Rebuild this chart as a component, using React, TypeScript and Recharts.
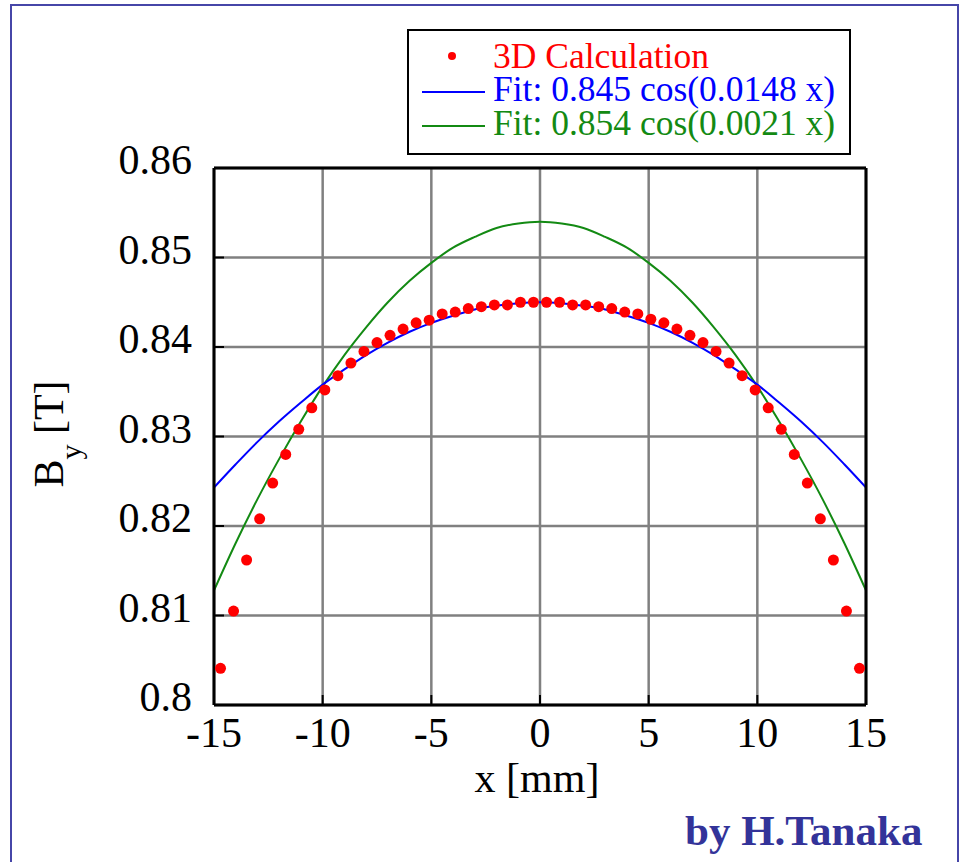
import React from "react";
import {
  ComposedChart,
  Line,
  Scatter,
  XAxis,
  YAxis,
  CartesianGrid,
  Legend,
  Label,
} from "recharts";

// 3D field calculation, sampled every 0.6 mm
const calcX = [
  -14.7, -14.1, -13.5, -12.9, -12.3, -11.7, -11.1, -10.5, -9.9, -9.3, -8.7, -8.1, -7.5,
  -6.9, -6.3, -5.7, -5.1, -4.5, -3.9, -3.3, -2.7, -2.1, -1.5, -0.9, -0.3,
  0.3, 0.9, 1.5, 2.1, 2.7, 3.3, 3.9, 4.5, 5.1, 5.7, 6.3, 6.9, 7.5,
  8.1, 8.7, 9.3, 9.9, 10.5, 11.1, 11.7, 12.3, 12.9, 13.5, 14.1, 14.7,
];
const calcBy = [
  0.8041, 0.8105, 0.8162, 0.8208, 0.8248, 0.828, 0.8308, 0.8332, 0.8352, 0.8368, 0.8382, 0.8395, 0.8405,
  0.8413, 0.842, 0.8427, 0.843, 0.8437, 0.8439, 0.8443, 0.8445, 0.8447, 0.8447, 0.845, 0.845,
  0.845, 0.845, 0.8447, 0.8447, 0.8445, 0.8443, 0.8439, 0.8437, 0.8431, 0.8427, 0.842, 0.8413, 0.8405,
  0.8395, 0.8382, 0.8368, 0.8352, 0.8332, 0.8308, 0.828, 0.8248, 0.8208, 0.8162, 0.8105, 0.8041,
];

// fitted curves, read every 1 mm
const fitX = [
  -15, -14, -13, -12, -11, -10, -9, -8, -7, -6, -5, -4, -3, -2, -1, 0,
  1, 2, 3, 4, 5, 6, 7, 8, 9, 10, 11, 12, 13, 14, 15,
];
const fitBlue = [
  0.8243, 0.8269, 0.8294, 0.8317, 0.8338, 0.8358, 0.8375, 0.8391, 0.8405, 0.8417, 0.8427, 0.8435, 0.8442, 0.8446, 0.8449, 0.845,
  0.8449, 0.8446, 0.8442, 0.8435, 0.8427, 0.8417, 0.8405, 0.8391, 0.8375, 0.8358, 0.8338, 0.8317, 0.8294, 0.8269, 0.8243,
];
const fitGreen = [
  0.8128, 0.8181, 0.823, 0.8275, 0.8317, 0.8356, 0.8391, 0.8422, 0.845, 0.8474, 0.8494, 0.8511, 0.8523, 0.8533, 0.8538, 0.854,
  0.8538, 0.8533, 0.8523, 0.8511, 0.8494, 0.8474, 0.845, 0.8422, 0.8391, 0.8356, 0.8317, 0.8275, 0.823, 0.8181, 0.8128,
];

const xMajorTicks = [-15, -10, -5, 0, 5, 10, 15];
const xMinorTicks = [
  -15, -14, -13, -12, -11, -10, -9, -8, -7, -6, -5, -4, -3, -2, -1, 0,
  1, 2, 3, 4, 5, 6, 7, 8, 9, 10, 11, 12, 13, 14, 15,
];
const yMajorTicks = [0.8, 0.81, 0.82, 0.83, 0.84, 0.85, 0.86];
const yMinorTicks = [
  0.8, 0.802, 0.804, 0.806, 0.808, 0.81, 0.812, 0.814, 0.816, 0.818, 0.82,
  0.822, 0.824, 0.826, 0.828, 0.83, 0.832, 0.834, 0.836, 0.838, 0.84,
  0.842, 0.844, 0.846, 0.848, 0.85, 0.852, 0.854, 0.856, 0.858, 0.86,
];

const legendLabels = ["3D Calculation", "Fit: 0.845 cos(0.0148 x)", "Fit: 0.854 cos(0.0021 x)"];

const calcData = calcX.map((x, i) => ({ x, y: calcBy[i] }));
const blueData = fitX.map((x, i) => ({ x, y: fitBlue[i] }));
const greenData = fitX.map((x, i) => ({ x, y: fitGreen[i] }));

const SERIF = '"Liberation Serif", "Times New Roman", serif';
const RED = "#ff0000";
const BLUE = "#0000ff";
const GREEN = "#138a13";

const frame = { stroke: "#000", strokeWidth: 3 };
const tickMark = { stroke: "#000", strokeWidth: 2 };

const XTick = (props: any) => (
  <text x={props.x} y={props.y + 42} textAnchor="middle" fontFamily={SERIF} fontSize={42} fill="#000">
    {props.payload.value}
  </text>
);

const YTick = (props: any) => (
  <text x={props.x - 22} y={props.y + 6} textAnchor="end" fontFamily={SERIF} fontSize={42} fill="#000">
    {String(Number(Number(props.payload.value).toFixed(2)))}
  </text>
);

const LegendBox = () => (
  <svg width={444} height={126} style={{ display: "block" }}>
    <rect x={1} y={1} width={442} height={124} fill="#fff" stroke="#000" strokeWidth={2} />
    <circle cx={45} cy={27} r={4} fill={RED} />
    <line x1={15} x2={78} y1={63} y2={63} stroke={BLUE} strokeWidth={2} />
    <line x1={15} x2={78} y1={97} y2={97} stroke={GREEN} strokeWidth={2} />
    <g fontFamily={SERIF} fontSize={35.5}>
      <text x={86} y={39} fill={RED}>{legendLabels[0]}</text>
      <text x={86} y={72} fill={BLUE}>{legendLabels[1]}</text>
      <text x={86} y={106} fill={GREEN}>{legendLabels[2]}</text>
    </g>
  </svg>
);

export default function App() {
  return (
    <div
      style={{
        position: "absolute",
        left: 0,
        top: 0,
        width: 960,
        height: 862,
        overflow: "hidden",
        background: "#fff",
      }}
    >
      {/* outer page border */}
      <div
        style={{
          position: "absolute",
          left: 10,
          top: 4,
          width: 949,
          height: 900,
          boxSizing: "border-box",
          border: "2px solid #4646a8",
        }}
      />
      <ComposedChart
        width={960}
        height={862}
        margin={{ top: 166, right: 92, bottom: 155, left: 212 }}
        style={{ position: "absolute", left: 0, top: 0 }}
      >
        <CartesianGrid stroke="#808080" strokeWidth={2.5} />

        {/* bottom: labels + major ticks, then minor ticks */}
        <XAxis
          type="number"
          dataKey="x"
          domain={[-15, 15]}
          allowDataOverflow
          ticks={xMajorTicks}
          height={1}
          axisLine={frame}
          tickLine={tickMark}
          tickSize={-10}
          tickMargin={10}
          tick={XTick}
        >
          <Label
            content={(p: any) => (
              <text
                x={p.viewBox.x + p.viewBox.width / 2 - 3}
                y={p.viewBox.y + 87}
                textAnchor="middle"
                fontFamily={SERIF}
                fontSize={42}
                fill="#000"
              >
                x [mm]
              </text>
            )}
          />
        </XAxis>
        <XAxis xAxisId="xMinor" type="number" dataKey="x" domain={[-15, 15]} allowDataOverflow
          ticks={xMinorTicks} height={1} axisLine={false} tickLine={tickMark} tickSize={-7} tick={false} />
        <XAxis xAxisId="top" orientation="top" type="number" dataKey="x" domain={[-15, 15]} allowDataOverflow
          ticks={xMajorTicks} height={1} axisLine={frame} tickLine={tickMark} tickSize={-10} tick={false} />
        <XAxis xAxisId="topMinor" orientation="top" type="number" dataKey="x" domain={[-15, 15]} allowDataOverflow
          ticks={xMinorTicks} height={1} axisLine={false} tickLine={tickMark} tickSize={-7} tick={false} />

        {/* left: labels + major ticks, then minor ticks; right side mirrors */}
        <YAxis
          type="number"
          dataKey="y"
          domain={[0.8, 0.86]}
          allowDataOverflow
          ticks={yMajorTicks}
          width={1}
          axisLine={frame}
          tickLine={tickMark}
          tickSize={-10}
          tickMargin={10}
          tick={YTick}
        >
          <Label
            content={(p: any) => {
              const cx = p.viewBox.x - 150;
              const cy = p.viewBox.y + 266;
              return (
                <text
                  x={cx}
                  y={cy}
                  transform={`rotate(-90 ${cx} ${cy})`}
                  textAnchor="middle"
                  fontFamily={SERIF}
                  fontSize={42}
                  fill="#000"
                >
                  B
                  <tspan fontSize={30} dy={18}>y</tspan>
                  <tspan dy={-18}> [T]</tspan>
                </text>
              );
            }}
          />
        </YAxis>
        <YAxis yAxisId="yMinor" type="number" dataKey="y" domain={[0.8, 0.86]} allowDataOverflow
          ticks={yMinorTicks} width={1} axisLine={false} tickLine={tickMark} tickSize={-7} tick={false} />
        <YAxis yAxisId="right" orientation="right" type="number" dataKey="y" domain={[0.8, 0.86]} allowDataOverflow
          ticks={yMajorTicks} width={1} axisLine={frame} tickLine={tickMark} tickSize={-10} tick={false} />
        <YAxis yAxisId="rightMinor" orientation="right" type="number" dataKey="y" domain={[0.8, 0.86]} allowDataOverflow
          ticks={yMinorTicks} width={1} axisLine={false} tickLine={tickMark} tickSize={-7} tick={false} />

        <Legend
          layout="horizontal"
          verticalAlign="middle"
          align="center"
          wrapperStyle={{ left: 407, top: 29, width: 444, height: 126 }}
          content={() => <LegendBox />}
        />

        <Line
          data={greenData}
          dataKey="y"
          type="monotone"
          stroke={GREEN}
          strokeWidth={2}
          dot={false}
          isAnimationActive={false}
        />
        <Line
          data={blueData}
          dataKey="y"
          type="monotone"
          stroke={BLUE}
          strokeWidth={2}
          dot={false}
          isAnimationActive={false}
        />
        <Scatter
          data={calcData}
          dataKey="y"
          fill={RED}
          isAnimationActive={false}
          shape={(p: any) => <circle cx={p.cx} cy={p.cy} r={5.5} fill={RED} />}
        />
      </ComposedChart>

      <svg
        width={290}
        height={60}
        style={{ position: "absolute", left: 660, top: 800 }}
      >
        <text x={25} y={45} fontFamily={SERIF} fontWeight="bold" fontSize={43} fill="#333399">
          by H.Tanaka
        </text>
      </svg>
    </div>
  );
}
